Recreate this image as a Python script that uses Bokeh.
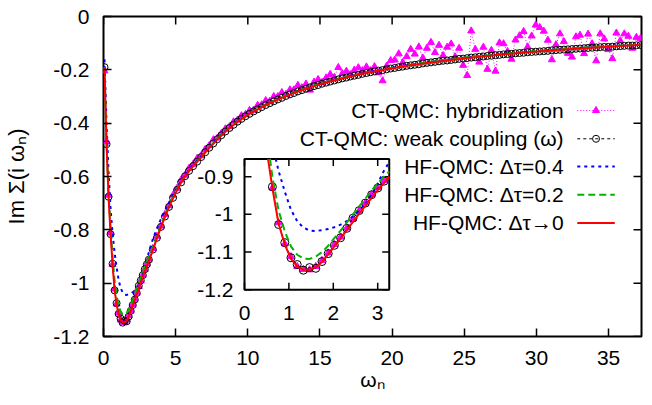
import math
from bokeh.plotting import figure
from bokeh.models import Range1d, FixedTicker, CustomJSTickFormatter
from bokeh.core.properties import value
from bokeh.embed import file_html
from bokeh.resources import INLINE

# ---------------- data ----------------
# Matsubara frequencies used for the data points (every point up to pi, every 2nd after)
WN = [0.07, 0.209, 0.349, 0.489, 0.628, 0.768, 0.908, 1.047, 1.187, 1.326, 1.466, 1.606,
      1.745, 1.885, 2.024, 2.164, 2.304, 2.443, 2.583, 2.723, 2.862, 3.002, 3.142,
      3.42, 3.70, 3.98, 4.26, 4.54, 4.82, 5.10, 5.38, 5.65, 5.93,
      6.21, 6.49, 6.77, 7.05, 7.33, 7.61, 7.89, 8.17, 8.45, 8.73,
      9.01, 9.29, 9.56, 9.84, 10.12, 10.40, 10.68, 10.96, 11.24, 11.52,
      11.80, 12.08, 12.36, 12.64, 12.92, 13.19, 13.47, 13.75, 14.03, 14.31,
      14.59, 14.87, 15.15, 15.43, 15.71, 15.99, 16.27, 16.55, 16.83, 17.10,
      17.38, 17.66, 17.94, 18.22, 18.50, 18.78, 19.06, 19.34, 19.62, 19.90,
      20.18, 20.46, 20.73, 21.01, 21.29, 21.57, 21.85, 22.13, 22.41, 22.69,
      22.97, 23.25, 23.53, 23.81, 24.09, 24.36, 24.64, 24.92, 25.20, 25.48,
      25.76, 26.04, 26.32, 26.60, 26.88, 27.16, 27.44, 27.72, 28.00, 28.27,
      28.55, 28.83, 29.11, 29.39, 29.67, 29.95, 30.23, 30.51, 30.79, 31.07,
      31.35, 31.63, 31.90, 32.18, 32.46, 32.74, 33.02, 33.30, 33.58, 33.86,
      34.14, 34.42, 34.70, 34.98, 35.26, 35.54, 35.81, 36.09, 36.37, 36.65,
      36.93, 37.21]

# CT-QMC weak coupling (circles)
CT_WEAK = [-0.19, -0.479, -0.676, -0.816, -0.927, -1.027, -1.075, -1.115, -1.133, -1.148, -1.141, -1.143,
           -1.125, -1.104, -1.082, -1.062, -1.037, -1.010, -0.990, -0.970, -0.948, -0.930, -0.912,
           -0.874, -0.830, -0.789, -0.750, -0.714, -0.680, -0.650, -0.622, -0.599, -0.579,
           -0.561, -0.544, -0.527, -0.509, -0.492, -0.476, -0.460, -0.445, -0.431, -0.418,
           -0.406, -0.394, -0.384, -0.374, -0.365, -0.356, -0.348, -0.340, -0.332, -0.325,
           -0.318, -0.311, -0.305, -0.298, -0.292, -0.287, -0.281, -0.276, -0.271, -0.266,
           -0.261, -0.257, -0.252, -0.248, -0.244, -0.240, -0.236, -0.232, -0.229, -0.225,
           -0.222, -0.219, -0.215, -0.212, -0.209, -0.206, -0.203, -0.201, -0.198, -0.195,
           -0.193, -0.190, -0.188, -0.185, -0.183, -0.181, -0.179, -0.176, -0.174, -0.172,
           -0.170, -0.168, -0.166, -0.165, -0.163, -0.161, -0.159, -0.158, -0.156, -0.154,
           -0.153, -0.151, -0.150, -0.148, -0.147, -0.145, -0.144, -0.142, -0.141, -0.140,
           -0.138, -0.137, -0.136, -0.134, -0.133, -0.132, -0.131, -0.130, -0.129, -0.127,
           -0.126, -0.125, -0.124, -0.123, -0.122, -0.121, -0.120, -0.119, -0.118, -0.117,
           -0.116, -0.115, -0.114, -0.114, -0.113, -0.112, -0.111, -0.110, -0.109, -0.109,
           -0.108, -0.107]

# CT-QMC hybridization (triangles)
CT_HYB = [-0.204, -0.468, -0.67, -0.812, -0.93, -1.022, -1.078, -1.112, -1.138, -1.146, -1.147, -1.138,
          -1.122, -1.102, -1.08, -1.06, -1.036, -1.012, -0.99, -0.97, -0.948, -0.928, -0.91,
          -0.870, -0.824, -0.786, -0.742, -0.709, -0.670, -0.644, -0.613, -0.595, -0.569,
          -0.554, -0.532, -0.522, -0.498, -0.484, -0.462, -0.456, -0.438, -0.421, -0.413,
          -0.395, -0.388, -0.372, -0.367, -0.352, -0.351, -0.333, -0.331, -0.315, -0.318,
          -0.300, -0.300, -0.285, -0.292, -0.275, -0.275, -0.258, -0.267, -0.253, -0.276,
          -0.246, -0.236, -0.247, -0.230, -0.217, -0.228, -0.191, -0.214, -0.205, -0.218,
          -0.201, -0.192, -0.203, -0.189, -0.203, -0.188, -0.211, -0.241, -0.186, -0.165,
          -0.163, -0.140, -0.173, -0.150, -0.123, -0.141, -0.114, -0.156, -0.119, -0.097,
          -0.135, -0.108, -0.146, -0.115, -0.103, -0.151, -0.119, -0.183, -0.221, -0.054,
          -0.123, -0.171, -0.115, -0.198, -0.127, -0.205, -0.099, -0.102, -0.131, -0.160,
          -0.088, -0.072, -0.056, -0.114, -0.073, -0.032, -0.041, -0.055, -0.089, -0.162,
          -0.106, -0.065, -0.094, -0.138, -0.152, -0.076, -0.070, -0.139, -0.066, -0.102,
          -0.166, -0.065, -0.084, -0.124, -0.158, -0.062, -0.091, -0.065, -0.074, -0.119,
          -0.078, -0.082]

# HF-QMC curves (lines)
LW = [0.07, 0.209, 0.349, 0.489, 0.628, 0.768, 0.908, 1.047, 1.187, 1.326, 1.466, 1.606,
      1.745, 1.885, 2.024, 2.164, 2.304, 2.443, 2.583, 2.723, 2.862, 3.002, 3.142,
      3.42, 3.70, 3.98, 4.26, 4.54, 4.82, 5.10, 5.38, 5.65, 5.93, 6.21, 6.49, 6.77, 7.05,
      7.33, 7.61, 7.89, 8.17, 8.45, 8.73, 9.01, 9.29, 9.56,
      10.12, 11.24, 12.36, 13.47, 14.59, 15.71, 16.83, 18.22, 19.62, 21.01, 22.41,
      23.81, 25.20, 26.60, 28.00, 29.67, 31.35, 33.02, 34.70, 36.37, 37.21]
HF_04 = [-0.16, -0.40, -0.58, -0.72, -0.815, -0.885, -0.94, -0.988, -1.018, -1.035, -1.043, -1.044,
         -1.042, -1.039, -1.034, -1.027, -1.018, -1.005, -0.99, -0.972, -0.948, -0.918, -0.884,
         -0.835, -0.795, -0.760, -0.728, -0.698, -0.669, -0.642, -0.617, -0.595, -0.575, -0.557, -0.540, -0.524, -0.507,
         -0.490, -0.474, -0.458, -0.443, -0.429, -0.416, -0.404, -0.392, -0.382,
         -0.363, -0.330, -0.303, -0.279, -0.259, -0.242, -0.227, -0.210, -0.196, -0.183, -0.172,
         -0.163, -0.154, -0.146, -0.139, -0.131, -0.124, -0.118, -0.113, -0.108, -0.106]
HF_02 = [-0.19, -0.47, -0.66, -0.79, -0.90, -0.99, -1.045, -1.085, -1.107, -1.117, -1.118, -1.112,
         -1.10, -1.083, -1.063, -1.043, -1.022, -1.00, -0.979, -0.958, -0.937, -0.918, -0.90,
         -0.866, -0.824, -0.784, -0.746, -0.711, -0.678, -0.648, -0.621, -0.598, -0.578, -0.560, -0.543, -0.526, -0.508,
         -0.491, -0.475, -0.459, -0.444, -0.430, -0.417, -0.405, -0.393, -0.383,
         -0.363, -0.330, -0.303, -0.279, -0.259, -0.242, -0.227, -0.210, -0.196, -0.183, -0.172,
         -0.163, -0.154, -0.146, -0.139, -0.131, -0.124, -0.118, -0.113, -0.108, -0.106]
HF_0 = [-0.19, -0.48, -0.675, -0.815, -0.93, -1.025, -1.08, -1.118, -1.138, -1.147, -1.147, -1.14,
        -1.126, -1.106, -1.085, -1.064, -1.042, -1.02, -0.998, -0.977, -0.956, -0.936, -0.917,
        -0.876, -0.832, -0.790, -0.751, -0.715, -0.681, -0.651, -0.623, -0.600, -0.580, -0.562, -0.545, -0.528, -0.510,
        -0.493, -0.477, -0.461, -0.446, -0.432, -0.419, -0.407, -0.395, -0.385,
        -0.365, -0.332, -0.305, -0.281, -0.261, -0.244, -0.229, -0.212, -0.198, -0.185, -0.174,
        -0.165, -0.156, -0.148, -0.141, -0.133, -0.126, -0.120, -0.1145, -0.109, -0.107]

# inset: curves as they appear inside the inset window (entering / leaving at its border)
IN_W_04 = [0.704, 0.768, 0.908, 1.047, 1.187, 1.326, 1.466, 1.606, 1.745, 1.885, 2.024, 2.164,
           2.304, 2.443, 2.583, 2.723, 2.862, 3.002, 3.142, 3.26]
IN_HF_04 = [-0.853, -0.885, -0.94, -0.988, -1.018, -1.035, -1.043, -1.044, -1.042, -1.039, -1.034, -1.027,
            -1.018, -1.005, -0.99, -0.972, -0.948, -0.918, -0.884, -0.862]
IN_W_02 = [0.575, 0.628, 0.768, 0.908, 1.047, 1.187, 1.326, 1.466, 1.606, 1.745, 1.885, 2.024, 2.164,
           2.304, 2.443, 2.583, 2.723, 2.862, 3.002, 3.142, 3.26]
IN_HF_02 = [-0.853, -0.90, -0.99, -1.045, -1.085, -1.107, -1.117, -1.118, -1.112, -1.10, -1.083, -1.063, -1.043,
            -1.022, -1.00, -0.979, -0.958, -0.937, -0.918, -0.90, -0.886]
IN_W_0 = [0.53, 0.628, 0.768, 0.908, 1.047, 1.187, 1.326, 1.466, 1.606, 1.745, 1.885, 2.024, 2.164,
          2.304, 2.443, 2.583, 2.723, 2.862, 3.002, 3.142, 3.26]
IN_HF_0 = [-0.853, -0.93, -1.025, -1.08, -1.118, -1.138, -1.147, -1.147, -1.14, -1.126, -1.106, -1.085, -1.064,
           -1.042, -1.02, -0.998, -0.977, -0.956, -0.936, -0.917, -0.90]
IN_FIRST, IN_LAST = 4, 23          # marker indices shown inside the inset

X_TICKS = [0, 5, 10, 15, 20, 25, 30, 35]
Y_TICKS = [-1.2, -1.0, -0.8, -0.6, -0.4, -0.2, 0.0]
IN_X_TICKS = [0, 1, 2, 3]
IN_X_LABELS = ["0", "1", "2", "3"]
IN_Y_TICKS = [-1.2, -1.1, -1.0, -0.9]
IN_Y_LABELS = ["-1.2", "-1.1", "-1", "-0.9"]

LEGEND_LABELS = ["CT-QMC: hybridization", "CT-QMC: weak coupling (\u03c9)",
                 "HF-QMC: \u0394\u03c4=0.4", "HF-QMC: \u0394\u03c4=0.2", "HF-QMC: \u0394\u03c4\u21920"]
X_TITLE = "\u03c9\u2099"
Y_TITLE = "Im \u03a3(i \u03c9\u2099)"

# ---------------- layout / style ----------------
X_RANGE = (0.0, 37.28)
Y_RANGE = (-1.2, 0.0)
IN_X_RANGE = (0.0, 3.26)
IN_Y_RANGE = (-1.2, -0.853)
IN_BOX = (9.77, 19.80, -1.025, -0.534)       # inset window in main data units
FRAME_W, FRAME_H = 538, 320
FONT = "Liberation Sans"
FS = "21px"
MAGENTA, BLUE, GREEN, RED = "#ff00ff", "#0000ff", "#00b400", "#ff0000"
TICK_MAIN, TICK_INSET = 8, 7
TRI_SIZE, CIRC_SIZE = 7, 7

LEG_TEXT_X = 31.88
LEG_X0, LEG_X1 = 32.83, 35.43
LEG_ROWS = [-0.3525, -0.4586, -0.5625, -0.6686, -0.7740]

p = figure(width=650, height=400, x_range=Range1d(*X_RANGE), y_range=Range1d(*Y_RANGE),
           output_backend="svg", toolbar_location=None,
           min_border_left=103, min_border_right=9, min_border_top=16, min_border_bottom=64)
p.grid.visible = False
p.outline_line_color = "black"
p.outline_line_width = 2
p.background_fill_color = "white"
p.border_fill_color = "white"


def style_axis(ax, ticks, standoff):
    ax.ticker = FixedTicker(ticks=ticks)
    ax.major_tick_in = TICK_MAIN
    ax.major_tick_out = 0
    ax.minor_tick_line_color = None
    ax.axis_line_color = None
    ax.major_tick_line_color = "black"
    ax.major_tick_line_width = 1.5
    ax.major_label_text_font = FONT
    ax.major_label_text_color = "black"
    ax.major_label_text_font_size = FS
    ax.major_label_standoff = standoff
    ax.axis_label_text_font = FONT
    ax.axis_label_text_font_size = FS
    ax.axis_label_text_font_style = "normal"
    ax.axis_label_text_color = "black"


style_axis(p.xaxis[0], X_TICKS, 14)
style_axis(p.yaxis[0], Y_TICKS, 14)
p.yaxis[0].formatter = CustomJSTickFormatter(code="return Number(tick.toFixed(2)).toString();")
p.xaxis[0].axis_label = X_TITLE
p.xaxis[0].axis_label_standoff = 0
p.yaxis[0].axis_label = Y_TITLE
p.yaxis[0].axis_label_text_font_size = "22px"
p.yaxis[0].axis_label_standoff = 21

# mirrored inward ticks on top and right
ppx = FRAME_W / (X_RANGE[1] - X_RANGE[0])
ppy = FRAME_H / (Y_RANGE[1] - Y_RANGE[0])
n_x, n_y = len(X_TICKS), len(Y_TICKS)
p.segment(x0=X_TICKS, y0=[Y_RANGE[1]] * n_x, x1=X_TICKS, y1=[Y_RANGE[1] - TICK_MAIN / ppy] * n_x,
          line_color="black", line_width=1.5)
p.segment(x0=[X_RANGE[1]] * n_y, y0=Y_TICKS, x1=[X_RANGE[1] - TICK_MAIN / ppx] * n_y, y1=Y_TICKS,
          line_color="black", line_width=1.5)

# ---------------- main curves ----------------
p.line(WN, CT_HYB, line_color=MAGENTA, line_width=1, line_dash="1 2")
p.scatter(WN, CT_HYB, marker="triangle", size=TRI_SIZE, fill_color=MAGENTA, line_color=MAGENTA)
p.line(WN, CT_WEAK, line_color="black", line_width=1, line_dash="3 3")
p.scatter(WN, CT_WEAK, marker="circle", size=CIRC_SIZE, fill_color=None, line_color="black", line_width=1)
p.line(LW, HF_04, line_color=BLUE, line_width=2, line_dash="3 4")
p.line(LW, HF_02, line_color=GREEN, line_width=2, line_dash="7 4")
p.line(LW, HF_0, line_color=RED, line_width=2)

# ---------------- inset (own ranges mapped into its window) ----------------
def span_range(src, tgt, full):
    k = (src[1] - src[0]) / (tgt[1] - tgt[0])
    return Range1d(start=src[0] + (full[0] - tgt[0]) * k, end=src[0] + (full[1] - tgt[0]) * k)


p.extra_x_ranges = {"ins": span_range(IN_X_RANGE, IN_BOX[0:2], X_RANGE)}
p.extra_y_ranges = {"ins": span_range(IN_Y_RANGE, IN_BOX[2:4], Y_RANGE)}
R = dict(x_range_name="ins", y_range_name="ins")

p.quad(left=[IN_X_RANGE[0]], right=[IN_X_RANGE[1]], bottom=[IN_Y_RANGE[0]], top=[IN_Y_RANGE[1]],
       fill_color="white", line_color="black", line_width=2, **R)

px_x = ppx * (IN_BOX[1] - IN_BOX[0]) / (IN_X_RANGE[1] - IN_X_RANGE[0])
px_y = ppy * (IN_BOX[3] - IN_BOX[2]) / (IN_Y_RANGE[1] - IN_Y_RANGE[0])
tdx, tdy = TICK_INSET / px_x, TICK_INSET / px_y
x0, x1 = IN_X_RANGE
y0, y1 = IN_Y_RANGE
k = len(IN_X_TICKS)
m = len(IN_Y_TICKS)
p.segment(x0=IN_X_TICKS, y0=[y0] * k, x1=IN_X_TICKS, y1=[y0 + tdy] * k, line_color="black", line_width=1.5, **R)
p.segment(x0=IN_X_TICKS, y0=[y1] * k, x1=IN_X_TICKS, y1=[y1 - tdy] * k, line_color="black", line_width=1.5, **R)
p.segment(x0=[x0] * m, y0=IN_Y_TICKS, x1=[x0 + tdx] * m, y1=IN_Y_TICKS, line_color="black", line_width=1.5, **R)
p.segment(x0=[x1] * m, y0=IN_Y_TICKS, x1=[x1 - tdx] * m, y1=IN_Y_TICKS, line_color="black", line_width=1.5, **R)

p.text(x=IN_X_TICKS, y=[y0] * k, text=IN_X_LABELS, text_align="center", text_baseline="middle",
       y_offset=23, text_font=value(FONT), text_font_size=value(FS), text_color="black", **R)
p.text(x=[x0] * m, y=IN_Y_TICKS, text=IN_Y_LABELS, text_align="right", text_baseline="middle",
       x_offset=-11, text_font=value(FONT), text_font_size=value(FS), text_color="black", **R)

iw = WN[IN_FIRST:IN_LAST]
p.line(iw, CT_HYB[IN_FIRST:IN_LAST], line_color=MAGENTA, line_width=1, line_dash="1 2", **R)
p.scatter(iw, CT_HYB[IN_FIRST:IN_LAST], marker="triangle", size=TRI_SIZE, fill_color=MAGENTA,
          line_color=MAGENTA, **R)
p.line(iw, CT_WEAK[IN_FIRST:IN_LAST], line_color="black", line_width=1, line_dash="3 3", **R)
p.scatter(iw, CT_WEAK[IN_FIRST:IN_LAST], marker="circle", size=8, fill_color=None, line_color="black",
          line_width=1, **R)
p.line(IN_W_04, IN_HF_04, line_color=BLUE, line_width=2, line_dash="3 4", **R)
p.line(IN_W_02, IN_HF_02, line_color=GREEN, line_width=2, line_dash="7 4", **R)
p.line(IN_W_0, IN_HF_0, line_color=RED, line_width=2, **R)

# ---------------- legend (text left of the sample, gnuplot style) ----------------
p.text(x=[LEG_TEXT_X] * 5, y=LEG_ROWS, text=LEGEND_LABELS, text_align="right", text_baseline="middle",
       text_font=value(FONT), text_font_size=value(FS), text_color="black")
styles = [(MAGENTA, 1, "1 2"), ("black", 1, "3 3"), (BLUE, 2, "3 4"), (GREEN, 2, "7 4"), (RED, 2, "solid")]
for yy, (c, w, d) in zip(LEG_ROWS, styles):
    p.segment(x0=[LEG_X0], y0=[yy], x1=[LEG_X1], y1=[yy], line_color=c, line_width=w, line_dash=d)
xm = (LEG_X0 + LEG_X1) / 2
p.scatter([xm], [LEG_ROWS[0]], marker="triangle", size=TRI_SIZE, fill_color=MAGENTA, line_color=MAGENTA)
p.scatter([xm], [LEG_ROWS[1]], marker="circle", size=CIRC_SIZE, fill_color=None, line_color="black", line_width=1)

open("out.html", "w").write(file_html(p, INLINE))
